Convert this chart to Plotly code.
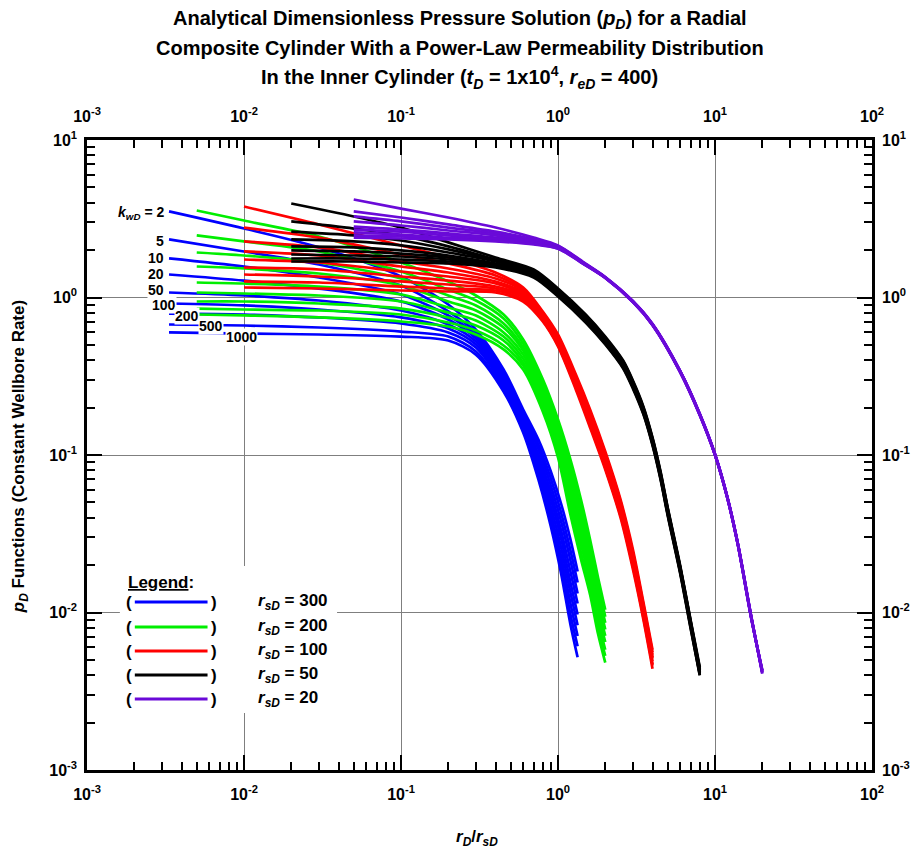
import plotly.graph_objects as go

# ---------------- data ----------------
kwd_values = [2, 5, 10, 20, 50, 100, 200, 500, 1000]
rsd_values = [300, 200, 100, 50, 20]
family_colors = ["#0000ff", "#00ee00", "#ff0000", "#000000", "#6a0ad8"]

x_rsd300 = [0.00333, 0.01, 0.03, 0.1, 0.2, 0.3, 0.45, 0.6, 0.75, 0.9, 1.05, 1.2, 1.333]
pd_rsd300 = [
    [3.52, 2.74, 2.08, 1.36, 0.903, 0.626, 0.349, 0.1945, 0.1254, 0.0786, 0.0485, 0.0291, 0.0182],
    [2.34, 1.96, 1.62, 1.19, 0.815, 0.600, 0.334, 0.186, 0.1166, 0.0709, 0.0425, 0.0248, 0.0155],
    [1.77, 1.57, 1.34, 1.045, 0.769, 0.574, 0.324, 0.178, 0.109, 0.064, 0.0373, 0.0214, 0.0132],
    [1.40, 1.28, 1.14, 0.943, 0.725, 0.549, 0.310, 0.1706, 0.1007, 0.0578, 0.0327, 0.0182, 0.0114],
    [1.076, 1.03, 0.957, 0.827, 0.674, 0.525, 0.297, 0.163, 0.0936, 0.0522, 0.0291, 0.0155, 0.0097],
    [0.916, 0.89, 0.839, 0.747, 0.636, 0.503, 0.284, 0.156, 0.0871, 0.0471, 0.0255, 0.0134, 0.0083],
    [0.791, 0.78, 0.747, 0.684, 0.600, 0.481, 0.272, 0.1496, 0.0809, 0.0425, 0.0223, 0.0114, 0.0071],
    [0.674, 0.664, 0.645, 0.608, 0.565, 0.454, 0.260, 0.143, 0.0752, 0.0384, 0.0196, 0.0097, 0.0061],
    [0.600, 0.59, 0.582, 0.565, 0.533, 0.434, 0.253, 0.139, 0.0699, 0.0352, 0.0174, 0.0084, 0.0052],
]

x_rsd200 = [0.005, 0.01, 0.03, 0.1, 0.2, 0.3, 0.45, 0.6, 0.8, 1.0, 1.2, 1.4, 1.6, 1.8, 2.0]
pd_rsd200 = [
    [3.57, 3.08, 2.44, 1.668, 1.264, 1.03, 0.780, 0.541, 0.302, 0.168, 0.0936, 0.0522, 0.0291, 0.0166, 0.0104],
    [2.48, 2.27, 1.96, 1.462, 1.124, 0.957, 0.736, 0.510, 0.284, 0.156, 0.0845, 0.0464, 0.0262, 0.0151, 0.0094],
    [1.93, 1.848, 1.668, 1.320, 1.03, 0.890, 0.684, 0.481, 0.268, 0.145, 0.0763, 0.0418, 0.0237, 0.0136, 0.0086],
    [1.573, 1.528, 1.420, 1.192, 0.943, 0.827, 0.645, 0.461, 0.253, 0.137, 0.0689, 0.0373, 0.0214, 0.0123, 0.0078],
    [1.245, 1.227, 1.174, 1.045, 0.864, 0.769, 0.600, 0.434, 0.239, 0.127, 0.0622, 0.0336, 0.0193, 0.0109, 0.0071],
    [1.076, 1.06, 1.03, 0.943, 0.803, 0.714, 0.565, 0.410, 0.225, 0.1183, 0.057, 0.0300, 0.0177, 0.0099, 0.0065],
    [0.943, 0.943, 0.916, 0.851, 0.747, 0.664, 0.533, 0.387, 0.212, 0.1116, 0.0515, 0.0270, 0.0159, 0.0089, 0.0058],
    [0.851, 0.839, 0.827, 0.780, 0.694, 0.617, 0.496, 0.370, 0.200, 0.104, 0.0464, 0.024, 0.0144, 0.0080, 0.0053],
    [0.780, 0.769, 0.747, 0.704, 0.654, 0.582, 0.468, 0.349, 0.189, 0.0965, 0.0418, 0.0218, 0.0130, 0.0073, 0.0048],
]

x_rsd100 = [0.01, 0.03, 0.1, 0.2, 0.4, 0.6, 0.8, 1.0, 1.3, 1.6, 2.0, 2.5, 3.0, 3.5, 4.0]
pd_rsd100 = [
    [3.78, 2.91, 2.14, 1.795, 1.441, 1.157, 0.815, 0.582, 0.324, 0.1945, 0.1052, 0.0522, 0.0251, 0.0116, 0.0058],
    [2.78, 2.40, 1.875, 1.644, 1.38, 1.124, 0.803, 0.565, 0.315, 0.189, 0.1022, 0.0507, 0.024, 0.0112, 0.0056],
    [2.27, 2.08, 1.693, 1.528, 1.32, 1.108, 0.791, 0.557, 0.306, 0.181, 0.0978, 0.0485, 0.0234, 0.0109, 0.0054],
    [1.96, 1.848, 1.573, 1.441, 1.264, 1.076, 0.769, 0.541, 0.297, 0.1755, 0.0950, 0.0471, 0.0223, 0.0104, 0.0052],
    [1.743, 1.668, 1.462, 1.359, 1.227, 1.045, 0.757, 0.533, 0.288, 0.1706, 0.0923, 0.0457, 0.0218, 0.0101, 0.0051],
    [1.55, 1.506, 1.359, 1.282, 1.174, 1.03, 0.747, 0.518, 0.284, 0.1656, 0.0896, 0.0444, 0.0212, 0.0099, 0.0049],
    [1.40, 1.359, 1.264, 1.209, 1.141, 1.0, 0.736, 0.510, 0.276, 0.1585, 0.0858, 0.0425, 0.0202, 0.0096, 0.0047],
    [1.264, 1.245, 1.174, 1.141, 1.108, 0.971, 0.714, 0.496, 0.268, 0.154, 0.083, 0.0413, 0.0196, 0.0093, 0.0046],
    [1.157, 1.141, 1.108, 1.092, 1.076, 0.943, 0.704, 0.489, 0.260, 0.1496, 0.0809, 0.0401, 0.0188, 0.0090, 0.0044],
]

x_rsd50 = [0.02, 0.05, 0.1, 0.2, 0.4, 0.7, 1.0, 1.5, 2.0, 2.6, 3.0, 3.5, 4.0, 4.5, 5.0, 6.0, 7.0, 8.0]
pd_rsd50 = [
    [3.95, 3.27, 2.78, 2.24, 1.795, 1.506, 1.141, 0.780, 0.565, 0.398, 0.297, 0.203, 0.129, 0.0785, 0.0463, 0.0199, 0.0089, 0.0045],
    [3.04, 2.74, 2.48, 2.11, 1.743, 1.484, 1.124, 0.769, 0.557, 0.392, 0.293, 0.200, 0.1275, 0.0774, 0.0457, 0.0196, 0.0088, 0.0044],
    [2.62, 2.48, 2.30, 2.02, 1.718, 1.462, 1.108, 0.758, 0.549, 0.386, 0.288, 0.197, 0.1257, 0.0763, 0.0450, 0.0194, 0.0087, 0.0043],
    [2.34, 2.27, 2.14, 1.93, 1.693, 1.441, 1.092, 0.747, 0.541, 0.381, 0.284, 0.1945, 0.1238, 0.0752, 0.0444, 0.0191, 0.0085, 0.0043],
    [2.11, 2.08, 1.99, 1.848, 1.644, 1.420, 1.076, 0.736, 0.533, 0.375, 0.280, 0.1916, 0.122, 0.0741, 0.0437, 0.0188, 0.0084, 0.0042],
    [1.99, 1.96, 1.90, 1.795, 1.620, 1.40, 1.06, 0.725, 0.525, 0.370, 0.276, 0.189, 0.1202, 0.0730, 0.0431, 0.0185, 0.0083, 0.0041],
    [1.875, 1.848, 1.821, 1.743, 1.597, 1.38, 1.045, 0.715, 0.518, 0.364, 0.272, 0.186, 0.1185, 0.0720, 0.0424, 0.0183, 0.0082, 0.0041],
    [1.769, 1.769, 1.743, 1.693, 1.573, 1.359, 1.03, 0.704, 0.510, 0.359, 0.268, 0.183, 0.1168, 0.0709, 0.0418, 0.0180, 0.0080, 0.0040],
    [1.693, 1.693, 1.668, 1.644, 1.55, 1.34, 1.015, 0.694, 0.503, 0.354, 0.264, 0.181, 0.1150, 0.0699, 0.0412, 0.0177, 0.0079, 0.0040],
]

x_rsd20 = [0.05, 0.1, 0.2, 0.4, 0.7, 1.0, 1.5, 2.0, 3.0, 4.0, 6.0, 8.0, 10, 12, 14, 17, 20]
pd_rsd20 = [
    [4.19, 3.67, 3.22, 2.78, 2.40, 2.14, 1.64, 1.35, 0.950, 0.680, 0.342, 0.183, 0.1015, 0.0539, 0.0273, 0.0095, 0.0041],
    [3.52, 3.22, 2.91, 2.62, 2.34, 2.12, 1.63, 1.345, 0.947, 0.677, 0.341, 0.182, 0.1012, 0.0538, 0.0272, 0.0095, 0.0041],
    [3.27, 3.04, 2.78, 2.55, 2.30, 2.11, 1.625, 1.343, 0.945, 0.676, 0.340, 0.182, 0.1010, 0.0537, 0.0271, 0.0094, 0.0042],
    [3.04, 2.865, 2.664, 2.48, 2.27, 2.10, 1.62, 1.34, 0.943, 0.674, 0.339, 0.181, 0.1007, 0.0535, 0.0270, 0.0094, 0.0042],
    [2.82, 2.70, 2.55, 2.40, 2.24, 2.08, 1.62, 1.34, 0.943, 0.674, 0.339, 0.181, 0.1007, 0.0534, 0.0270, 0.0094, 0.0042],
    [2.70, 2.62, 2.48, 2.37, 2.24, 2.07, 1.615, 1.337, 0.940, 0.672, 0.338, 0.180, 0.1004, 0.0533, 0.0269, 0.0093, 0.0042],
    [2.59, 2.51, 2.40, 2.34, 2.20, 2.06, 1.61, 1.335, 0.938, 0.670, 0.337, 0.180, 0.1002, 0.0532, 0.0268, 0.0093, 0.0043],
    [2.48, 2.44, 2.37, 2.30, 2.20, 2.05, 1.605, 1.333, 0.936, 0.668, 0.336, 0.179, 0.1000, 0.0531, 0.0268, 0.0093, 0.0043],
    [2.40, 2.37, 2.34, 2.27, 2.17, 2.04, 1.60, 1.33, 0.934, 0.667, 0.335, 0.179, 0.0998, 0.0530, 0.0267, 0.0092, 0.0043],
]

x_tick_vals = [1e-3, 1e-2, 1e-1, 1e0, 1e1, 1e2]
x_tick_text = ["10<sup>-3</sup>", "10<sup>-2</sup>", "10<sup>-1</sup>", "10<sup>0</sup>", "10<sup>1</sup>", "10<sup>2</sup>"]
y_tick_vals = [1e-3, 1e-2, 1e-1, 1e0, 1e1]
y_tick_text = ["10<sup>-3</sup>", "10<sup>-2</sup>", "10<sup>-1</sup>", "10<sup>0</sup>", "10<sup>1</sup>"]

kwd_labels = ["<i>k<sub>wD</sub></i> = 2", "5", "10", "20", "50", "100", "200", "500", "1000"]
legend_labels = ["<i>r<sub>sD</sub></i> = 300", "<i>r<sub>sD</sub></i> = 200", "<i>r<sub>sD</sub></i> = 100",
                 "<i>r<sub>sD</sub></i> = 50", "<i>r<sub>sD</sub></i> = 20"]

# ---------------- figure ----------------
FONT = "Liberation Sans Narrow, Arial Narrow, Liberation Sans, Arial, sans-serif"
W, H = 922, 852
L, R, T, B = 87, 875, 140, 770


def xp(px):
    return (px - L) / (R - L)


def yp(py):
    return (B - py) / (B - T)


fig = go.Figure()
families = [(x_rsd300, pd_rsd300), (x_rsd200, pd_rsd200), (x_rsd100, pd_rsd100),
            (x_rsd50, pd_rsd50), (x_rsd20, pd_rsd20)]
for (xs, table), col, rsd in zip(families, family_colors, rsd_values):
    for row, kwd in zip(table, kwd_values):
        fig.add_trace(go.Scatter(
            x=xs, y=row, mode="lines",
            line=dict(color=col, width=2.7, shape="spline", smoothing=0.8),
            showlegend=False, hoverinfo="skip",
            name=f"rsD={rsd}, kwD={kwd}"))

# dummy trace for the mirrored (top/right) labelled axes
fig.add_trace(go.Scatter(x=[1], y=[1], xaxis="x2", yaxis="y2", mode="markers",
                         marker=dict(opacity=0), showlegend=False, hoverinfo="skip"))

minor_x = [k * 10.0 ** d for d in range(-3, 2) for k in range(2, 10)]
minor_y = [k * 10.0 ** d for d in range(-3, 1) for k in range(2, 10)]
tickfont = dict(family=FONT, size=16, color="black", weight="bold")

common = dict(type="log", showline=True, linecolor="black", linewidth=2.5,
              ticks="inside", ticklen=15, tickwidth=2, tickcolor="black",
              showgrid=True, gridcolor="#7f7f7f", gridwidth=1, zeroline=False,
              mirror="allticks", tickfont=tickfont)

fig.update_layout(
    width=W, height=H,
    margin=dict(l=L, r=W - R, t=T, b=H - B),
    paper_bgcolor="white", plot_bgcolor="white",
    xaxis=dict(range=[-3, 2], tickmode="array", tickvals=x_tick_vals, ticktext=x_tick_text,
               ticklabelstandoff=8,
               minor=dict(tickmode="array", tickvals=minor_x, ticks="inside", ticklen=8,
                          tickwidth=1.5, tickcolor="black", showgrid=False),
               **common),
    yaxis=dict(range=[-3, 1], tickmode="array", tickvals=y_tick_vals, ticktext=y_tick_text,
               ticklabelstandoff=4,
               minor=dict(tickmode="array", tickvals=minor_y, ticks="inside", ticklen=8,
                          tickwidth=1.5, tickcolor="black", showgrid=False),
               **common),
    xaxis2=dict(type="log", range=[-3, 2], overlaying="x", side="top", anchor="y",
                tickmode="array", tickvals=x_tick_vals, ticktext=x_tick_text,
                ticklabelstandoff=14,
                showgrid=False, showline=False, ticks="", zeroline=False, tickfont=tickfont),
    yaxis2=dict(type="log", range=[-3, 1], overlaying="y", side="right", anchor="x",
                tickmode="array", tickvals=y_tick_vals, ticktext=y_tick_text,
                ticklabelstandoff=9,
                showgrid=False, showline=False, ticks="", zeroline=False, tickfont=tickfont),
    showlegend=False,
)

annotations = []
# title lines
title_lines = [
    "Analytical Dimensionless Pressure Solution (<i>p<sub>D</sub></i>) for a Radial",
    "Composite Cylinder With a Power-Law Permeability Distribution",
    "In the Inner Cylinder (<i>t<sub>D</sub></i> = 1x10<sup>4</sup>, <i>r<sub>eD</sub></i> = 400)",
]
for line, py in zip(title_lines, [19, 48, 78]):
    annotations.append(dict(text=f"<b>{line}</b>", xref="paper", yref="paper",
                            x=xp(461), y=yp(py), xanchor="center", yanchor="middle",
                            showarrow=False, font=dict(family=FONT, size=20, color="black")))
# axis titles
annotations.append(dict(text="<b><i>r<sub>D</sub></i>/<i>r<sub>sD</sub></i></b>", xref="paper", yref="paper",
                        x=xp(478), y=yp(838), xanchor="center", yanchor="middle", showarrow=False,
                        font=dict(family=FONT, size=17, color="black")))
annotations.append(dict(text="<b><i>p<sub>D</sub></i> Functions (Constant Wellbore Rate)</b>",
                        xref="paper", yref="paper", x=xp(20), y=yp(457), xanchor="center",
                        yanchor="middle", textangle=-90, showarrow=False,
                        font=dict(family=FONT, size=17, color="black")))

# k_wD labels along the blue curves
kwd_label_pos = [(165, 213, "right"), (165, 241, "right"), (165, 258, "right"), (165, 274, "right"),
                 (165, 290, "right"), (164, 305, "center"), (187, 316, "center"),
                 (211, 326, "center"), (242, 337, "center")]
for txt, (px, py, anc) in zip(kwd_labels, kwd_label_pos):
    annotations.append(dict(text=f"<b>{txt}</b>", xref="paper", yref="paper",
                            x=xp(px), y=yp(py), xanchor=anc, yanchor="middle", showarrow=False,
                            bgcolor="white", borderpad=0,
                            font=dict(family=FONT, size=14, color="black")))

shapes = []
# legend block (white background hides grid lines)
shapes.append(dict(type="rect", xref="paper", yref="paper", x0=xp(120), x1=xp(338),
                   y0=yp(713), y1=yp(566), fillcolor="white", line=dict(width=0), layer="above"))
annotations.append(dict(text="<b><u>Legend</u>:</b>", xref="paper", yref="paper", x=xp(126), y=yp(582),
                        xanchor="left", yanchor="middle", showarrow=False,
                        font=dict(family=FONT, size=17, color="black")))
row_y = [602, 627, 651, 675, 699]
for lab, col, py in zip(legend_labels, family_colors, row_y):
    shapes.append(dict(type="line", xref="paper", yref="paper", x0=xp(135), x1=xp(208),
                       y0=yp(py), y1=yp(py), line=dict(color=col, width=3.2), layer="above"))
    for ch, px in (("(", 129), (")", 214)):
        annotations.append(dict(text=f"<b>{ch}</b>", xref="paper", yref="paper", x=xp(px), y=yp(py),
                                xanchor="center", yanchor="middle", showarrow=False,
                                font=dict(family=FONT, size=17, color="black")))
    annotations.append(dict(text=f"<b>{lab}</b>", xref="paper", yref="paper", x=xp(257), y=yp(py),
                            xanchor="left", yanchor="middle", showarrow=False,
                            font=dict(family=FONT, size=17, color="black")))

fig.update_layout(annotations=annotations, shapes=shapes)
fig.write_html("out.html")
